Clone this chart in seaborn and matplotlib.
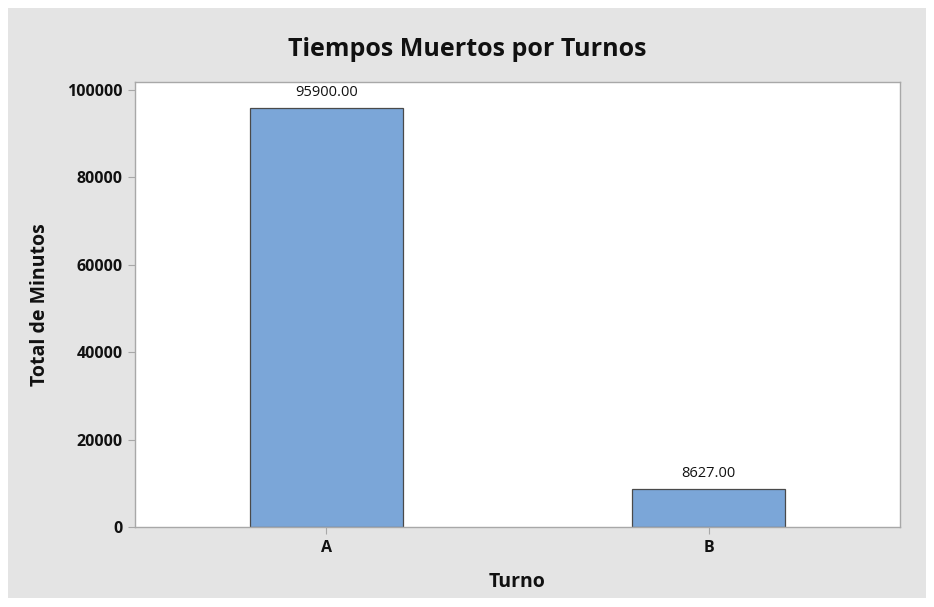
import matplotlib
matplotlib.use("Agg")
import matplotlib.pyplot as plt
import seaborn as sns
import pandas as pd
from matplotlib.patches import Rectangle

# Datos
turnos = ["A", "B"]
minutos = [95900.00, 8627.00]

df = pd.DataFrame({"Turno": turnos, "Total de Minutos": minutos})

sns.set_style("white")
plt.rcParams['font.family'] = ['Open Sans', 'DejaVu Sans']

fig = plt.figure(figsize=(9.34, 6.07), dpi=100, facecolor="white")
# Fondo gris estilo Minitab
fondo = Rectangle((8 / 934, 9 / 607), 918 / 934, 590 / 607,
                  transform=fig.transFigure, facecolor="#e4e4e4",
                  edgecolor="none", zorder=-10)
fig.add_artist(fondo)

ax = fig.add_axes([135 / 934, 1 - 527 / 607, 765 / 934, 445 / 607])
ax.set_facecolor("white")

sns.barplot(data=df, x="Turno", y="Total de Minutos", color="#7ba6d8",
            width=0.4, edgecolor="#4a4a4a", linewidth=0.9, saturation=1, ax=ax)

for i, v in enumerate(minutos):
    ax.text(i, v + 1900, f"{v:.2f}", ha="center", va="bottom", fontsize=10.5,
            color="#111111")

ax.set_xlim(-0.5, 1.5)
ax.set_ylim(0, 101830)
ax.set_yticks([0, 20000, 40000, 60000, 80000, 100000])
ax.set_yticklabels(["0", "20000", "40000", "60000", "80000", "100000"])

for s in ax.spines.values():
    s.set_color("#a8a8a8")
    s.set_linewidth(1.0)

ax.tick_params(axis="both", direction="out", length=5, width=0.8, color="#a8a8a8",
               labelsize=11.5, pad=4, bottom=True, left=True, labelcolor="#111111")
for lbl in ax.get_xticklabels() + ax.get_yticklabels():
    lbl.set_fontweight("bold")

ax.set_xlabel("Turno", fontsize=14, fontweight="bold", labelpad=12, color="#111111")
ax.set_ylabel("Total de Minutos", fontsize=14, fontweight="bold", labelpad=12,
              color="#111111")

fig.text(0.5, 1 - 50 / 607, "Tiempos Muertos por Turnos", ha="center", va="center",
         fontsize=18, fontweight="bold", color="#111111")

fig.savefig("out.png", dpi=100, facecolor="white")
